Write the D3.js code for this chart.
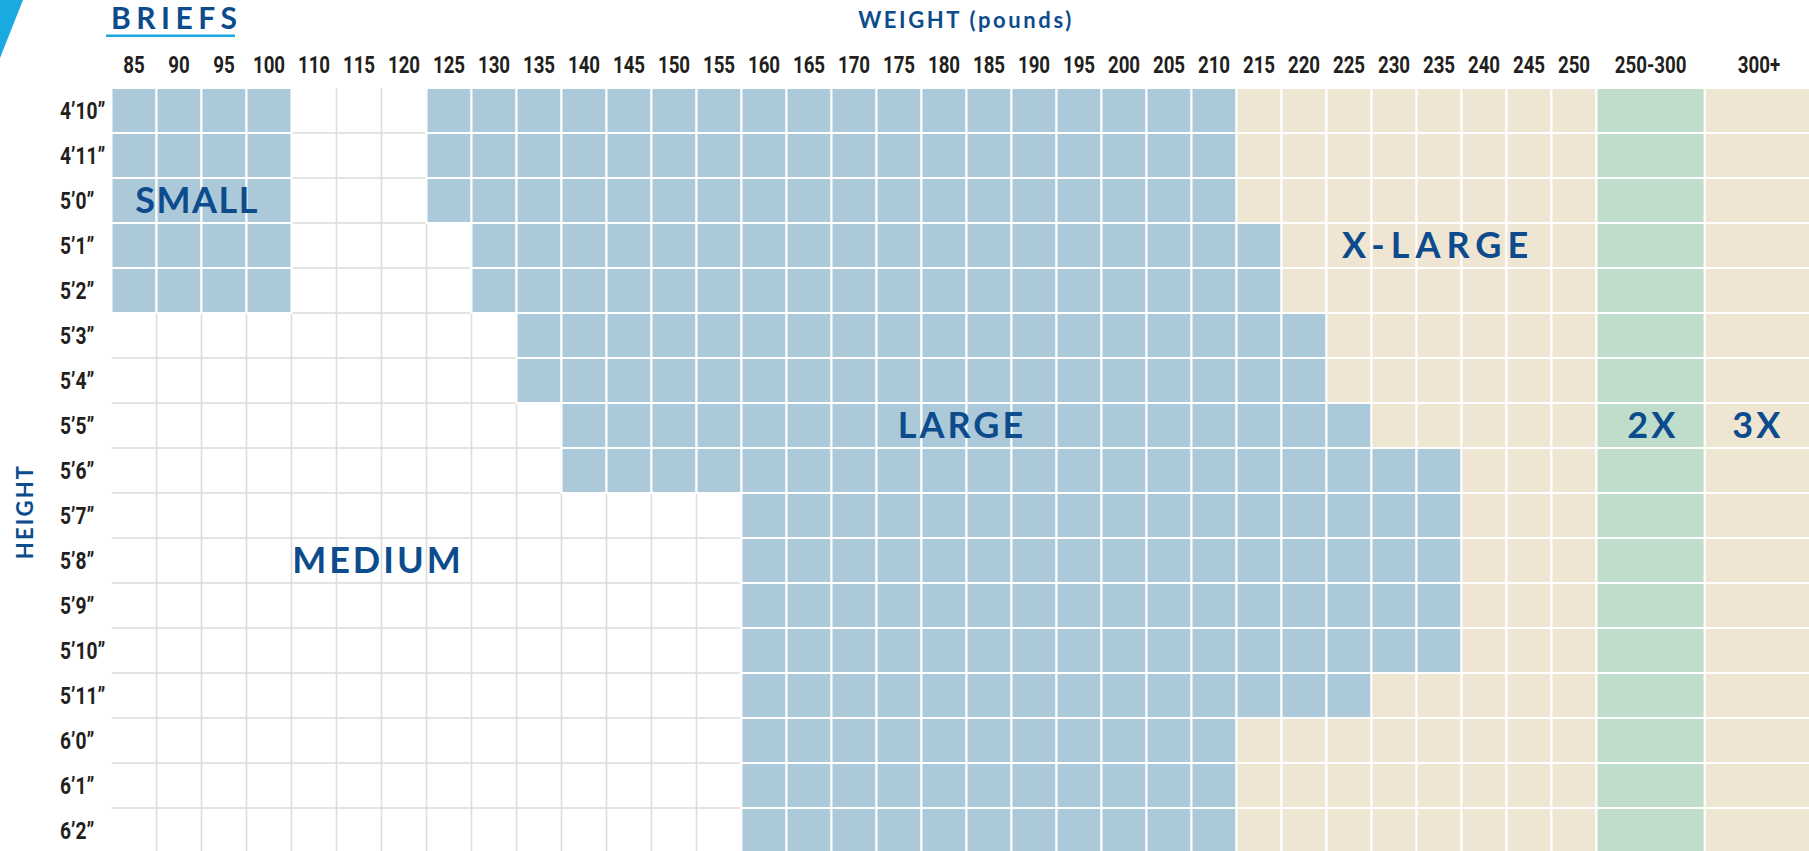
<!DOCTYPE html>
<html>
<head>
<meta charset="utf-8">
<script src="https://cdn.jsdelivr.net/npm/d3@7"></script>
<style>
  body { margin: 0; background: #fff; }
  svg { display: block; }
  .num { font-family: Roboto, "Liberation Sans", sans-serif; font-weight: bold; fill: #231f20; }
  .zone { font-family: Lato, "Noto Sans", sans-serif; font-weight: bold; fill: #0c4b8c; }
</style>
</head>
<body>
<div id="chart"></div>
<script>
// weight columns (pounds)
const weights = ["85","90","95","100","110","115","120","125","130","135","140","145","150","155","160","165","170","175","180","185","190","195","200","205","210","215","220","225","230","235","240","245","250"];
const wideWeights = ["250-300", "300+"];
const heights = ["4’10”","4’11”","5’0”","5’1”","5’2”","5’3”","5’4”","5’5”","5’6”","5’7”","5’8”","5’9”","5’10”","5’11”","6’0”","6’1”","6’2”"];

// size per cell, one char per column (S small, M medium, L large, X x-large, 2 = 2X, 3 = 3X)
const sizeRows = [
  "SSSSMMMLLLLLLLLLLLLLLLLLLXXXXXXXX23",
  "SSSSMMMLLLLLLLLLLLLLLLLLLXXXXXXXX23",
  "SSSSMMMLLLLLLLLLLLLLLLLLLXXXXXXXX23",
  "SSSSMMMMLLLLLLLLLLLLLLLLLLXXXXXXX23",
  "SSSSMMMMLLLLLLLLLLLLLLLLLLXXXXXXX23",
  "MMMMMMMMMLLLLLLLLLLLLLLLLLLXXXXXX23",
  "MMMMMMMMMLLLLLLLLLLLLLLLLLLXXXXXX23",
  "MMMMMMMMMMLLLLLLLLLLLLLLLLLLXXXXX23",
  "MMMMMMMMMMLLLLLLLLLLLLLLLLLLLLXXX23",
  "MMMMMMMMMMMMMMLLLLLLLLLLLLLLLLXXX23",
  "MMMMMMMMMMMMMMLLLLLLLLLLLLLLLLXXX23",
  "MMMMMMMMMMMMMMLLLLLLLLLLLLLLLLXXX23",
  "MMMMMMMMMMMMMMLLLLLLLLLLLLLLLLXXX23",
  "MMMMMMMMMMMMMMLLLLLLLLLLLLLLXXXXX23",
  "MMMMMMMMMMMMMMLLLLLLLLLLLXXXXXXXX23",
  "MMMMMMMMMMMMMMLLLLLLLLLLLXXXXXXXX23",
  "MMMMMMMMMMMMMMLLLLLLLLLLLXXXXXXXX23"
];

// zone names, anchored on a column and a row
const zoneLabels = [
  { text: "SMALL",   col: "90",      frac: 0.9,  row: "5’0”" },
  { text: "MEDIUM",  col: "115",     frac: 0.92, row: "5’8”" },
  { text: "LARGE",   col: "180",     frac: 0.9,  row: "5’5”" },
  { text: "X-LARGE", col: "235",     frac: 0.48, row: "5’1”" },
  { text: "2X",      col: "250-300", frac: 0.52, row: "5’5”" },
  { text: "3X",      col: "300+",    frac: 0.49, row: "5’5”" }
];

const colors = { S: "#abc9d9", M: "#ffffff", L: "#abc9d9", X: "#eee5d3", "2": "#c0ddcc", "3": "#eee5d3" };

const width = 1809, height = 851;
const svg = d3.select("#chart").append("svg")
  .attr("width", width)
  .attr("height", height);

const x = d3.scaleBand().domain(weights).range([111.5, 1596.5]);
const xWide = d3.scaleBand().domain(wideWeights).range([1596.5, 1813]);
const y = d3.scaleBand().domain(heights).range([88, 88 + 45 * heights.length]);

const colX = c => weights.includes(c) ? x(c) : xWide(c);
const colW = c => weights.includes(c) ? x.bandwidth() : xWide.bandwidth();
const allCols = weights.concat(wideWeights);

const cells = [];
sizeRows.forEach((r, i) => {
  r.split("").forEach((s, j) => cells.push({ h: heights[i], w: allCols[j], size: s }));
});

// white (medium) cells with grey right/bottom rules
const white = cells.filter(d => d.size === "M");
const g = svg.append("g");
g.selectAll("rect.m").data(white).enter().append("rect")
  .attr("class", "m")
  .attr("x", d => colX(d.w)).attr("y", d => y(d.h))
  .attr("width", d => colW(d.w)).attr("height", y.bandwidth())
  .attr("fill", "#fff");
g.selectAll("path.m").data(white).enter().append("path")
  .attr("class", "m")
  .attr("d", d => {
    const x0 = colX(d.w), x1 = x0 + colW(d.w), y0 = y(d.h), y1 = y0 + y.bandwidth();
    return `M${x1},${y0}V${y1}M${x0},${y1}H${x1}`;
  })
  .attr("fill", "none")
  .attr("stroke", "#dcdcdc")
  .attr("stroke-width", 1.6);

// coloured cells with white gaps
g.selectAll("rect.c").data(cells.filter(d => d.size !== "M")).enter().append("rect")
  .attr("class", "c")
  .attr("x", d => colX(d.w)).attr("y", d => y(d.h))
  .attr("width", d => colW(d.w)).attr("height", y.bandwidth())
  .attr("fill", d => colors[d.size])
  .attr("stroke", "#fff")
  .attr("stroke-width", 2);

// column labels (condensed by a horizontal squeeze)
const axTop = svg.append("g").attr("transform", "translate(0,73)")
  .call(d3.axisTop(x).tickSize(0).tickPadding(0));
const axTop2 = svg.append("g").attr("transform", "translate(0,73)")
  .call(d3.axisTop(xWide).tickSize(0).tickPadding(0));
[axTop, axTop2].forEach(a => {
  a.select(".domain").remove();
  a.selectAll("text").attr("class", "num").attr("font-size", 24).attr("dy", 0)
    .attr("y", 0).attr("transform", "scale(0.78,1)");
});

// row labels
const axLeft = svg.append("g").attr("transform", "translate(60,0)")
  .call(d3.axisLeft(y).tickSize(0).tickPadding(0));
axLeft.select(".domain").remove();
axLeft.selectAll("text").attr("class", "num").attr("font-size", 24)
  .attr("text-anchor", "start").attr("x", 0).attr("dy", "0.36em")
  .attr("transform", "scale(0.8,1)");

// zone names
svg.selectAll("text.zlabel").data(zoneLabels).enter().append("text")
  .attr("class", "zone zlabel")
  .attr("x", d => colX(d.col) + colW(d.col) * d.frac)
  .attr("y", d => y(d.row) + y.bandwidth() / 2)
  .attr("dy", "0.36em")
  .attr("text-anchor", "middle")
  .attr("font-size", 36)
  .attr("letter-spacing", d => d.text === "X-LARGE" ? 6 : (d.text === "SMALL" ? 1.5 : 3))
  .text(d => d.text);

// titles
svg.append("polygon").attr("points", "0,0 23,0 0,58").attr("fill", "#1aa9e1");
svg.append("text").attr("class", "zone").attr("x", 111).attr("y", 29)
  .attr("font-size", 30).attr("letter-spacing", 5.5).text("BRIEFS");
svg.append("rect").attr("x", 106).attr("y", 34.5).attr("width", 129).attr("height", 2.5).attr("fill", "#1aa9e1");
svg.append("text").attr("class", "zone").attr("x", 966).attr("y", 27.7)
  .attr("text-anchor", "middle").attr("font-size", 22).attr("letter-spacing", 2.6)
  .text("WEIGHT (pounds)");
svg.append("text").attr("class", "zone")
  .attr("transform", "translate(32.5,511.5) rotate(-90)")
  .attr("text-anchor", "middle").attr("font-size", 22).attr("letter-spacing", 2.2)
  .text("HEIGHT");
</script>
</body>
</html>
